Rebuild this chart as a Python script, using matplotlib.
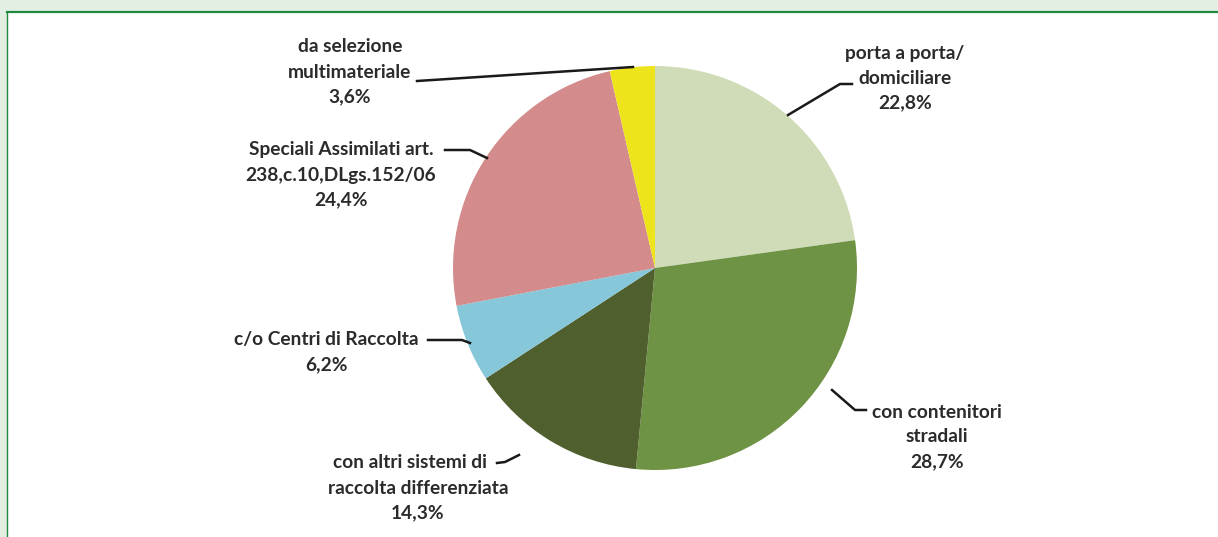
import matplotlib
matplotlib.use("Agg")
import matplotlib.pyplot as plt
from matplotlib.patches import Rectangle
from matplotlib.lines import Line2D

categories = [
    "porta a porta/\ndomiciliare",
    "con contenitori\nstradali",
    "con altri sistemi di\nraccolta differenziata",
    "c/o Centri di Raccolta",
    "Speciali Assimilati art.\n238,c.10,DLgs.152/06",
    "da selezione\nmultimateriale",
]
values = [22.8, 28.7, 14.3, 6.2, 24.4, 3.6]
colors = ["#cfdcb7", "#6e9344", "#4f5f2d", "#86c7da", "#d38b8c", "#eee41c"]

W, H = 1218, 537
fig = plt.figure(figsize=(W / 100, H / 100), dpi=100)
ax = fig.add_axes([0, 0, 1, 1])


def Y(py):
    return H - py


cx, cy, r = 655, Y(268), 202
ax.pie(values, colors=colors, startangle=90, counterclock=False,
       center=(cx, cy), radius=r, frame=True,
       wedgeprops=dict(linewidth=0))
ax.set_xlim(0, W)
ax.set_ylim(0, H)
ax.set_aspect("equal")
ax.axis("off")

# frame
ax.add_patch(Rectangle((0, Y(12)), W, 12, facecolor="#e4efe4", edgecolor="none", zorder=0))
ax.add_patch(Rectangle((0, 0), 7, H, facecolor="#e4efe4", edgecolor="none", zorder=0))
ax.add_line(Line2D([7, W], [Y(12), Y(12)], color="#1e8a40", lw=1.6, zorder=1))
ax.add_line(Line2D([7, 7], [0, Y(12)], color="#1e8a40", lw=1.0, zorder=1))

# label layout: (center x, top line y in px)
label_pos = [(905, 53), (937, 412), (418, 463), (326, 340), (341, 150), (350, 47)]
first_line_dx = [0, 0, -8, 0, 0, 0]
leaders = [
    [(788, 115), (840, 84), (852, 84)],
    [(832, 390), (855, 410), (866, 410)],
    [(519, 455), (505, 462), (497, 463)],
    [(470, 343), (462, 340), (428, 340)],
    [(487, 158), (470, 150), (445, 150)],
    [(633, 67), (417, 81)],
]

font = dict(family=["Lato", "DejaVu Sans"], fontweight="bold", fontsize=13.8, color="#2b2b2b")
for cat, val, (lx, ly), dx, pts in zip(categories, values, label_pos, first_line_dx, leaders):
    txt = cat + "\n" + f"{val:.1f}".replace(".", ",") + "%"
    for i, ln in enumerate(txt.split("\n")):
        ax.text(lx + (dx if i == 0 else 0), Y(ly + 25 * i), ln,
                ha="center", va="center", **font)
    xs = [p[0] for p in pts]
    ys = [Y(p[1]) for p in pts]
    ax.add_line(Line2D(xs, ys, color="#1a1a1a", lw=1.8, zorder=5))

fig.savefig("out.png", dpi=100)
